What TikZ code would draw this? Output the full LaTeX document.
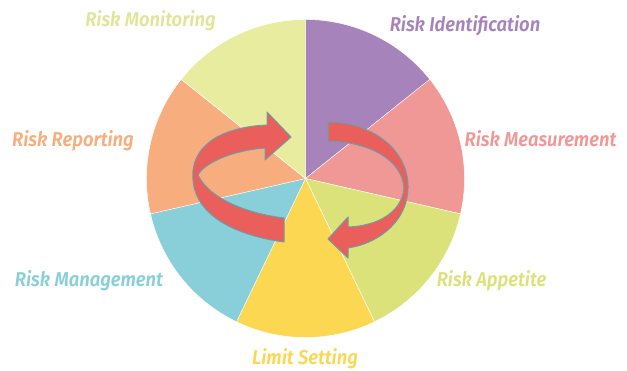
\documentclass[tikz,border=0pt]{standalone}
\usepackage{fontspec}
\newfontfamily\labfont{Fira Sans SemiBold Italic}[FakeStretch=0.92]
\definecolor{cPur}{HTML}{A783BC}
\definecolor{cPink}{HTML}{F09896}
\definecolor{cGreen}{HTML}{DCE27A}
\definecolor{cYel}{HTML}{FCD751}
\definecolor{cBlue}{HTML}{89CFDA}
\definecolor{cOr}{HTML}{F7AD7D}
\definecolor{cBeige}{HTML}{E8EC9F}
\definecolor{cArrow}{HTML}{EA5E5C}
\definecolor{cEdge}{HTML}{6E9DA5}
\begin{document}
\begin{tikzpicture}[x=1pt,y=-1pt,
  lab/.style={font=\labfont\fontsize{20}{24}\selectfont, anchor=base, inner sep=0pt},
  wedge/.style={draw=white, line width=0.4pt, line join=round},
  ribbon/.style={fill=cArrow, draw=cEdge, line width=1pt, line join=round}]
\useasboundingbox (0,0) rectangle (627,371);
\coordinate (c) at (305.5,178.5);
\foreach \k/\col in {0/cPur,1/cPink,2/cGreen,3/cYel,4/cBlue,5/cOr,6/cBeige}{
  \pgfmathsetmacro\aS{-90+\k*360/7}
  \pgfmathsetmacro\aE{-90+(\k+1)*360/7}
  \path[wedge, fill=\col] (c) -- ++(\aS:159) arc[start angle=\aS, end angle=\aE, radius=159] -- cycle;
}
% left ribbon arrow
\path[ribbon] (284,218) -- (284,242)
  .. controls (240,236) and (196,218) .. (193,180)
  .. controls (190,145) and (222,127) .. (267,125)
  -- (267,112) -- (291,137) -- (265,160) -- (265,148)
  .. controls (235,150) and (205,162) .. (198,175)
  .. controls (210,200) and (250,214) .. (284,218) -- cycle;
% right ribbon arrow
\path[ribbon] (328,122)
  .. controls (370,122) and (407,148) .. (408,185)
  .. controls (409,220) and (380,243) .. (348,248)
  -- (348,258) -- (328,239) -- (348,217) -- (348,227)
  .. controls (378,226) and (402,212) .. (404,188)
  .. controls (402,160) and (370,142) .. (328,141) -- cycle;
% labels
\node[lab, text=cBeige!97!black] (mon) at (150.5,27) {Risk Monitoring};
\node[lab, text=cPur] (ide) at (465,32) {Risk Identification};
\node[lab, text=cOr] (rep) at (73,147) {Risk Reporting};
\node[lab, text=cPink] (mea) at (540.5,147) {Risk Measurement};
\node[lab, text=cBlue] (man) at (89,287) {Risk Management};
\node[lab, text=cGreen] (app) at (491.5,287) {Risk Appetite};
\node[lab, text=cYel] (lim) at (305,364.5) {Limit Setting};
\end{tikzpicture}
\end{document}
